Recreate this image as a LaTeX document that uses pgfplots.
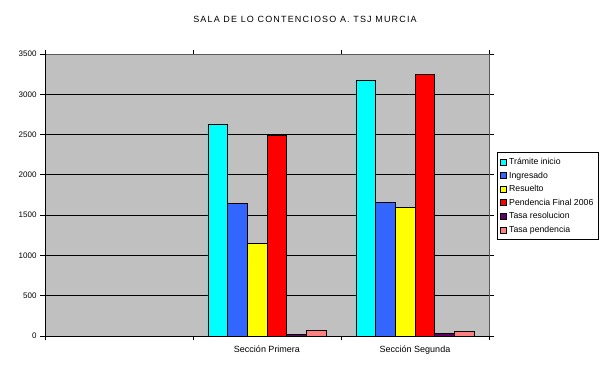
\documentclass[border=0pt]{standalone}
\usepackage{fontspec}
\setmainfont{Liberation Sans}
\usepackage{pgfplots}
\pgfplotsset{compat=1.18}
\definecolor{plotgray}{HTML}{C0C0C0}
\definecolor{cA}{HTML}{00FFFF}
\definecolor{cB}{HTML}{3366FF}
\definecolor{cC}{HTML}{FFFF00}
\definecolor{cD}{HTML}{FF0000}
\definecolor{cE}{HTML}{660066}
\definecolor{cF}{HTML}{FF8080}
\begin{document}
\begin{tikzpicture}[x=1pt,y=1pt]
\path[use as bounding box] (0,0) rectangle (613,375);
\node[font=\fontsize{9}{10}\selectfont\addfontfeatures{LetterSpace=13}] at (305,356) {SALA DE LO CONTENCIOSO A. TSJ MURCIA};
\begin{axis}[
  at={(45pt,39pt)}, anchor=south west,
  scale only axis, width=444pt, height=282pt,
  xmin=-0.5, xmax=2.5, ymin=0, ymax=3500,
  ybar=0pt, bar width=19.7pt,
  ytick={0,500,...,3500},
  ymajorgrids, grid style={black, line width=0.8pt},
  axis background/.style={fill=plotgray},
  axis line style={draw=gray!70!black, line width=0.8pt},
  tick align=outside, major tick length=5pt,
  tick style={black, line width=0.8pt},
  /pgf/number format/assume math mode=true,
  /pgf/number format/1000 sep={},
  yticklabel style={font=\fontsize{8}{9}\selectfont},
  xtick={0,1,2},
  xticklabels={,Sección Primera,Sección Segunda},
  xticklabel style={font=\fontsize{9}{10}\selectfont, yshift=-1.5pt},
  xtick style={draw=none},
  extra x ticks={-0.5,0.5,1.5,2.5},
  extra x tick labels={},
  extra x tick style={xtick style={draw=black}, major tick length=4pt},
  legend image code/.code={\draw[#1, draw=black, line width=0.8pt] (0pt,-3pt) rectangle (6pt,3pt);},
  legend style={at={(1.018,0.652)}, anchor=north west, draw=black, line width=0.8pt,
    font=\fontsize{8.7}{9.5}\selectfont, row sep=1.8pt, inner xsep=3pt, inner ysep=3.5pt},
  legend cell align=left,
  every axis plot/.append style={draw=black, line width=0.8pt},
]
\addplot[fill=cA] coordinates {(1,2630) (2,3175)};
\addplot[fill=cB] coordinates {(1,1650) (2,1663)};
\addplot[fill=cC] coordinates {(1,1154) (2,1600)};
\addplot[fill=cD] coordinates {(1,2490) (2,3250)};
\addplot[fill=cE] coordinates {(1,20) (2,30)};
\addplot[fill=cF] coordinates {(1,70) (2,60)};
\legend{Trámite inicio, Ingresado, Resuelto, Pendencia Final 2006, Tasa resolucion, Tasa pendencia}
\draw[black, line width=0.8pt] (rel axis cs:0,0) -- (rel axis cs:0,1);
\draw[black, line width=0.8pt] (rel axis cs:0,0) -- (rel axis cs:1,0);
\end{axis}
\end{tikzpicture}
\end{document}
